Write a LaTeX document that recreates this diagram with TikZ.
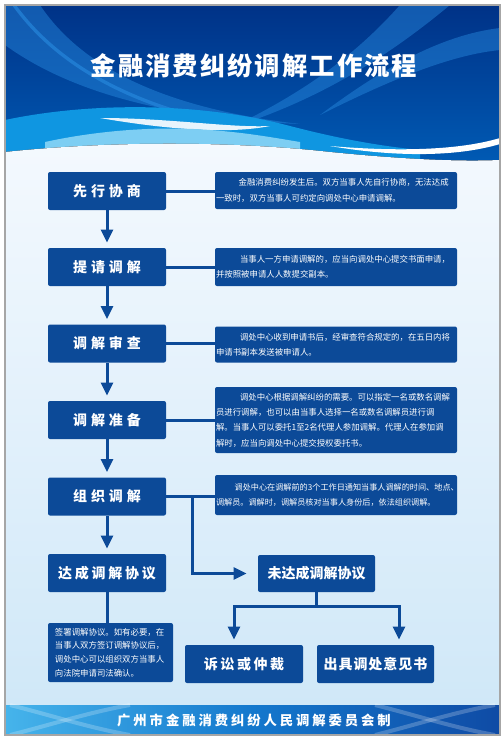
\documentclass[tikz,border=0pt]{standalone}
\usepackage{fontspec}
\setmainfont{Noto Sans CJK SC}
\usetikzlibrary{arrows.meta,calc}
\definecolor{boxblue}{RGB}{12,74,152}
\definecolor{lineblue}{RGB}{12,74,152}
\definecolor{hdtop}{RGB}{0,50,135}
\definecolor{hdbot}{RGB}{0,92,182}
\definecolor{cyanA}{RGB}{15,150,225}
\definecolor{cyanL}{RGB}{125,206,243}
\definecolor{bodytop}{RGB}{244,249,254}
\definecolor{bodybot}{RGB}{208,232,248}
\definecolor{footL}{RGB}{70,180,235}
\definecolor{footM}{RGB}{20,120,205}
\definecolor{footR}{RGB}{15,75,165}
\definecolor{swooshc}{RGB}{40,140,225}
\newcommand\lsp[1]{\addfontfeatures{LetterSpace=#1}}
\begin{document}
\begin{tikzpicture}[x=0.75pt,y=-0.75pt,
  box/.style={fill=boxblue, rounded corners=1.5pt, text=white, inner sep=0pt,
    minimum width=88.5pt, minimum height=28.5pt,
    font=\bfseries\fontsize{10.5}{12}\selectfont},
  desc/.style={fill=boxblue, rounded corners=1.5pt, text=white, inner sep=0pt,
    align=left, minimum width=181.5pt, text width=180pt,
    font=\fontsize{6.3}{11.5}\selectfont},
  conn/.style={draw=lineblue, line width=2.25pt},
  arr/.style={conn, -{Triangle[width=8.75pt,length=9.75pt]}, shorten >=3.75pt},
  swoosh/.style={fill=swooshc, opacity=0.45},
]
\useasboundingbox (0,0) rectangle (502,743);
% ---------- background ----------
\fill[white] (0,0) rectangle (502,743);
\fill[top color=hdtop, bottom color=hdbot] (5,5) rectangle (500,170);
\fill[swoosh] (5,5) -- (40,5) .. controls (80,65) and (160,108) .. (300,124) .. controls (150,118) and (60,85) .. (5,45) -- cycle;
\draw[swooshc, opacity=0.6, line width=2.5pt] (14,5) .. controls (50,55) and (110,95) .. (200,118);
\fill[swoosh] (400,5) -- (450,5) .. controls (390,55) and (320,100) .. (230,128) .. controls (310,90) and (360,50) .. (400,5) -- cycle;
\fill[swoosh] (500,28) .. controls (440,35) and (380,70) .. (320,115) .. controls (390,80) and (450,55) .. (500,50) -- cycle;
\fill[cyanA] (5,120) .. controls (90,102) and (200,102) .. (290,126) .. controls (340,139) and (380,146) .. (420,150) -- (420,170) -- (5,170) -- cycle;
\fill[white, opacity=0.9] (100,118) .. controls (170,118) and (230,128) .. (270,126) .. controls (230,134) and (170,130) .. (100,118) -- cycle;
\fill[cyanL] (45,142) .. controls (100,130) and (160,126) .. (210,130) .. controls (250,133) and (275,138) .. (300,142) -- (300,170) -- (45,170) -- cycle;
\fill[top color=bodytop, bottom color=bodybot] (5,152) .. controls (120,140) and (240,142) .. (330,152) .. controls (390,158) and (450,162) .. (500,160) -- (500,705) -- (5,705) -- cycle;
\fill[white] (330,146) .. controls (400,152) and (460,150) .. (500,138) -- (500,144) .. controls (460,156) and (400,158) .. (330,146) -- cycle;
% footer
\shade[left color=footL, right color=footR, middle color=footM] (5,705) rectangle (500,735);
\begin{scope}[white, opacity=0.22, line width=3pt]
  \draw (10,705) .. controls (50,715) and (90,728) .. (130,735);
  \draw (10,735) .. controls (50,725) and (90,712) .. (130,705);
  \draw (375,705) .. controls (415,715) and (455,728) .. (495,735);
  \draw (375,735) .. controls (415,725) and (455,712) .. (495,705);
\end{scope}
\draw[gray!70, line width=1.2pt] (5,5) rectangle (500,735);
% ---------- titles ----------
\node[text=white, font=\bfseries\fontsize{19}{22}\selectfont] (title) at (254,66) {\lsp{8}金融消费纠纷调解工作流程};
\node[text=white, font=\bfseries\fontsize{10}{12}\selectfont] (foot) at (254,720) {\lsp{22}广州市金融消费纠纷人民调解委员会制};
% ---------- left column ----------
\node[box] (b1) at (107,191) {\lsp{28}先行协商};
\node[box] (b2) at (107,267) {\lsp{28}提请调解};
\node[box] (b3) at (107,343.5) {\lsp{28}调解审查};
\node[box] (b4) at (107,420) {\lsp{28}调解准备};
\node[box] (b5) at (107,496.5) {\lsp{28}组织调解};
\node[box] (b6) at (107,573) {\lsp{20}达成调解协议};
% ---------- descriptions ----------
\node[desc, minimum height=27.75pt] (d1) at (336,190.5) {\hspace*{17pt}金融消费纠纷发生后。双方当事人先自行协商，无法达成\\一致时，双方当事人可约定向调处中心申请调解。};
\node[desc, minimum height=28.5pt] (d2) at (336,267) {\hspace*{18pt}当事人一方申请调解的，应当向调处中心提交书面申请，\\并按照被申请人人数提交副本。};
\node[desc, minimum height=27pt] (d3) at (336,344.5) {\hspace*{18pt}调处中心收到申请书后，经审查符合规定的，在五日内将\\申请书副本发送被申请人。};
\node[desc, minimum height=49.5pt] (d4) at (336,420) {\hspace*{18pt}调处中心根据调解纠纷的需要。可以指定一名或数名调解\\员进行调解，也可以由当事人选择一名或数名调解员进行调\\解。当事人可以委托1至2名代理人参加调解。代理人在参加调\\解时，应当向调处中心提交授权委托书。};
\node[desc, minimum height=30pt, font=\fontsize{6.1}{11.5}\selectfont] (d5) at (336,495) {\hspace*{14pt}调处中心在调解前的3个工作日通知当事人调解的时间、地点、\\调解员。调解时，调解员核对当事人身份后，依法组织调解。};
% ---------- bottom ----------
\node[box, minimum width=87.75pt, minimum height=27.75pt] (nf) at (316.5,573.5) {未达成调解协议};
\node[box] (r1) at (244,664) {\lsp{18}诉讼或仲裁};
\node[box, minimum width=87.75pt] (r2) at (375.5,664) {\lsp{7}出具调处意见书};
\node[desc, minimum width=93.75pt, minimum height=44.25pt, text width=83.25pt, font=\fontsize{6.3}{10.3}\selectfont] (bl) at (110.5,652.5) {签署调解协议。如有必要，在\\当事人双方签订调解协议后，\\调处中心可以组织双方当事人\\向法院申请司法确认。};
% ---------- connectors ----------
\foreach \i in {1,...,5} {
  \draw[conn] (b\i.east) -- (b\i.east -| d\i.west);
}
\draw[arr] (b1.south) -- (b2.north);
\draw[arr] (b2.south) -- (b3.north);
\draw[arr] (b3.south) -- (b4.north);
\draw[arr] (b4.south) -- (b5.north);
\draw[arr] (b5.south) -- (b6.north);
\draw[conn] (b6.south) -- (b6.south |- bl.north);
\coordinate (br) at (192,0);
\draw[arr, shorten >=8.25pt] (b5.east -| br) |- (nf.west);
\coordinate (sl) at (234,606);
\coordinate (sr) at (399,606);
\draw[arr] (nf.south) |- (sl) -- (sl |- r1.north);
\draw[arr] (nf.south) |- (sr) -- (sr |- r2.north);
\end{tikzpicture}
\end{document}
